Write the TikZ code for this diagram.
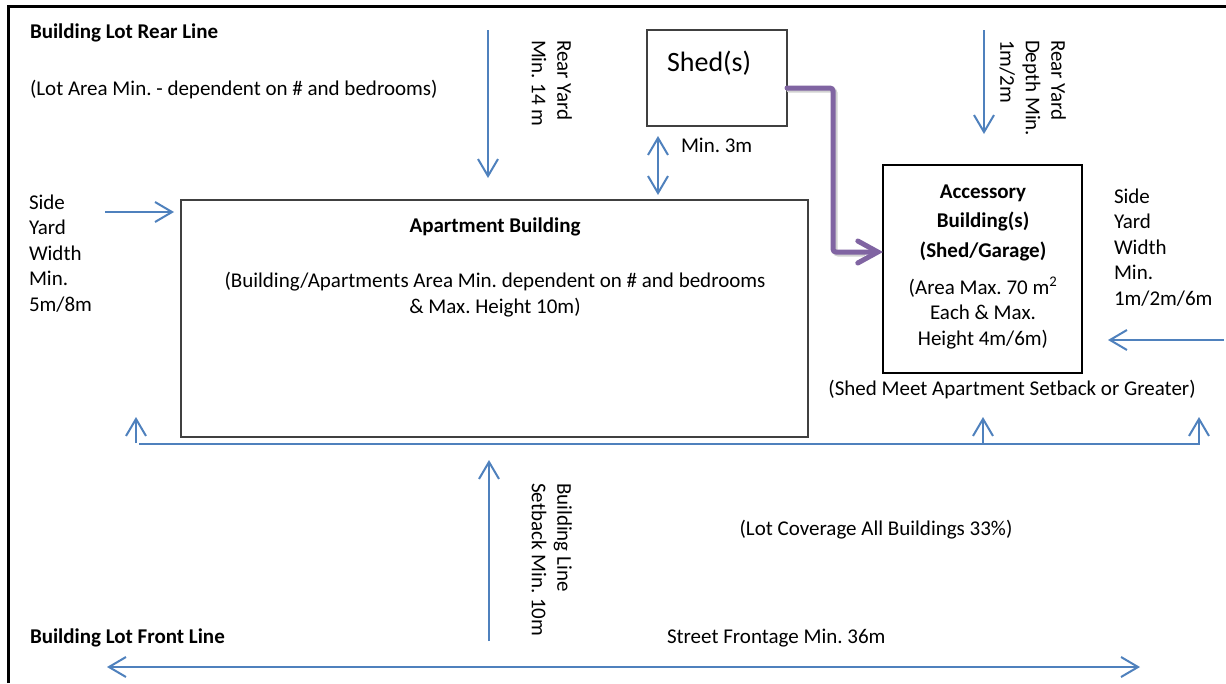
\documentclass[tikz,border=0pt]{standalone}
\usepackage{fontspec}
\setmainfont{Carlito}
\usetikzlibrary{arrows.meta}
\definecolor{dimblue}{HTML}{4F81BD}
\definecolor{shedpurple}{HTML}{8064A2}
\definecolor{boxgray}{HTML}{404040}
\frenchspacing
\begin{document}
\begin{tikzpicture}[x=1pt,y=-1pt,
  every node/.style={inner sep=0pt, outer sep=0pt, font=\fontsize{21}{25.5}\selectfont},
  lbl/.style={anchor=base west, align=left},
  boldlbl/.style={anchor=base west, font=\fontsize{21}{25.5}\selectfont\bfseries},
  vlbl/.style={rotate=-90, anchor=north west, align=left},
  dim/.style={draw=dimblue, line width=2pt, -{Straight Barb[length=17pt,width=20pt]}},
  dimboth/.style={draw=dimblue, line width=2pt, {Straight Barb[length=17pt,width=20pt]}-{Straight Barb[length=17pt,width=20pt]}},
  lotbox/.style={draw=boxgray, line width=2pt, anchor=north west},
  link/.style={draw=shedpurple, line width=5pt, rounded corners=3pt, line cap=round,
    -{Straight Barb[length=20pt,width=22pt,line cap=round]}},
  linkshadow/.style={draw=black!18, line width=5pt, rounded corners=3pt, line cap=round}]
\useasboundingbox (0,0) rectangle (1226,683);
\fill[white] (0,0) rectangle (1226,683);
% lot frame
\draw[line width=2.5pt] (8.3,683) -- (8.3,6.3) -- (1226,6.3);

% boxes
\node[lotbox, minimum width=627pt, minimum height=237pt] (apt) at (181,200) {};
\node[lotbox, minimum width=140pt, minimum height=96pt] (shed) at (647,30) {};
\node[lotbox, draw=black, line width=1.6pt, minimum width=199pt, minimum height=208pt] (acc) at (883,165) {};

% texts (multi-line nodes: base = baseline of last line)
\node[boldlbl] (rearline) at (30,38) {Building Lot Rear Line};
\node[lbl] (lotarea) at (30,95) {(Lot Area Min. - dependent on \# and bedrooms)};
\node[lbl] (leftside) at (29,311) {Side\\Yard\\Width\\Min.\\5m/8m};
\node[lbl] (rightside) at (1114,305) {Side\\Yard\\Width\\Min.\\1m/2m/6m};
\node[anchor=base, font=\fontsize{21}{25.5}\selectfont\bfseries] (apttitle) at (495,232) {Apartment Building};
\node[anchor=base, align=center] (apttext) at (495,313) {(Building/Apartments Area Min. dependent on \# and bedrooms\\\& Max. Height 10m)};
\node[anchor=base, align=center, font=\fontsize{21}{29.5}\selectfont\bfseries] (acctitle) at (983,257) {Accessory\\Building(s)\\(Shed/Garage)};
\node[anchor=base, align=center] (acctext) at (983,345) {(Area Max. 70 m\textsuperscript{2}\\Each \& Max.\\Height 4m/6m)};
\node[anchor=base] (shedmeet) at (1012,395) {(Shed Meet Apartment Setback or Greater)};
\node[anchor=base] (coverage) at (876,535) {(Lot Coverage All Buildings 33\%)};
\node[boldlbl] (frontline) at (30,643) {Building Lot Front Line};
\node[lbl] (frontage) at (667,643) {Street Frontage Min. 36m};
\node[lbl] (min3) at (681,152) {Min. 3m};
\node[anchor=base west, font=\fontsize{28}{33}\selectfont] (shedtext) at (667,71) {Shed(s)};
\node[vlbl] (rearyard) at (572,40) {Rear Yard\\Min. 14 m};
\node[vlbl] (reardepth) at (1066,40) {Rear Yard\\Depth Min.\\1m/2m};
\node[vlbl] (setback) at (572,483) {Building Line\\Setback Min. 10m};

% dimension coordinates
\coordinate (ryA) at (488,30);   \coordinate (ryB) at (488,178);
\coordinate (m3A) at (658,136);  \coordinate (m3B) at (658,195);
\coordinate (rdA) at (984,30);   \coordinate (rdB) at (984,134);
\coordinate (lsA) at (105,212);  \coordinate (lsB) at (174,212);
\coordinate (rsA) at (1224,340); \coordinate (rsB) at (1108,340);
\coordinate (blA) at (139,444);  \coordinate (blB) at (1199,444); \coordinate (blC) at (1199,417);
\coordinate (luA) at (136,443);  \coordinate (luB) at (136,417);
\coordinate (muA) at (983,443);  \coordinate (muB) at (983,417);
\coordinate (sbA) at (489,641);  \coordinate (sbB) at (489,460);
\coordinate (flA) at (107,667);  \coordinate (flB) at (1140,667);

\draw[dim] (ryA) -- (ryB);
\draw[dimboth] (m3A) -- (m3B);
\draw[dim] (rdA) -- (rdB);
\draw[dim] (lsA) -- (lsB);
\draw[dim] (rsA) -- (rsB);
\draw[dim] (blA) -- (blB) -- (blC);
\draw[dim] (luA) -- (luB);
\draw[dim] (muA) -- (muB);
\draw[dim] (sbA) -- (sbB);
\draw[dimboth] (flA) -- (flB);

% shed link
\coordinate (pA) at (shed.north east |- 0,88);
\coordinate (pB) at (833,88);
\coordinate (pC) at (833,252);
\draw[linkshadow] ([shift={(2,2)}]pA) -- ([shift={(2,2)}]pB) -- ([shift={(2,2)}]pC) -- ([shift={(-20,2)}]acc.west |- pC);
\draw[link] (pA) -- (pB) -- (pC) -- (acc.west |- pC);
\end{tikzpicture}
\end{document}
